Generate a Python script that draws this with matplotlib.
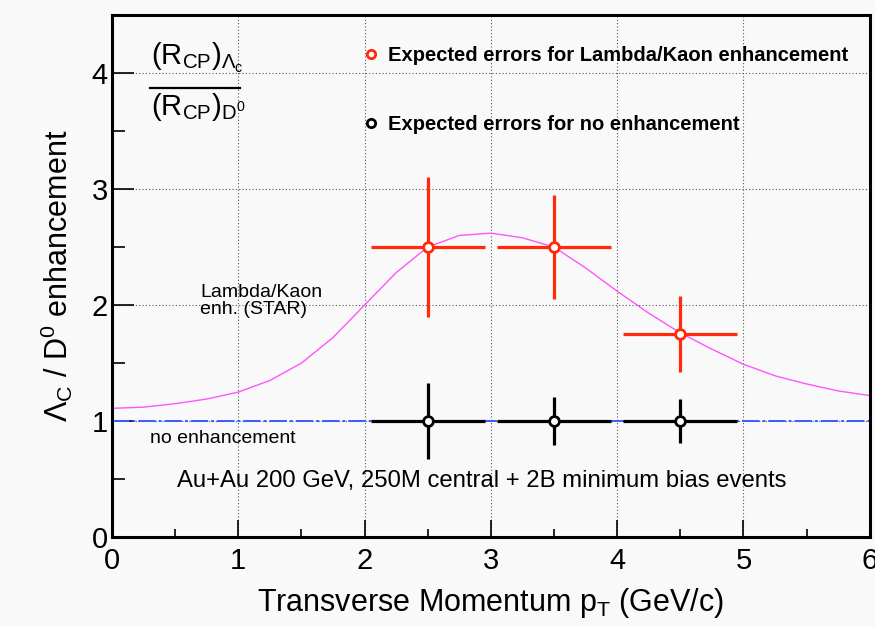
import matplotlib
matplotlib.use("Agg")
import matplotlib.pyplot as plt
from matplotlib.lines import Line2D
from matplotlib.ticker import MultipleLocator

plt.rcParams["font.family"] = ["Liberation Sans", "DejaVu Sans"]
plt.rcParams["mathtext.fontset"] = "custom"
plt.rcParams["mathtext.rm"] = "Liberation Sans"
plt.rcParams["mathtext.it"] = "Liberation Sans"
plt.rcParams["mathtext.bf"] = "Liberation Sans:bold"

# measured points
pt = [2.5, 3.5, 4.5]
pt_err = [0.45, 0.45, 0.45]
ratio_enh = [2.5, 2.5, 1.75]
err_enh = [0.6, 0.45, 0.33]
ratio_none = [1.0, 1.0, 1.0]
err_none = [0.33, 0.21, 0.19]

# Lambda/Kaon enhancement curve (STAR)
curve_pt = [0.0, 0.25, 0.5, 0.75, 1.0, 1.25, 1.5, 1.75, 2.0, 2.25, 2.5, 2.75, 3.0,
            3.25, 3.5, 3.75, 4.0, 4.25, 4.5, 4.75, 5.0, 5.25, 5.5, 5.75, 6.0]
curve_val = [1.11, 1.12, 1.15, 1.19, 1.25, 1.35, 1.50, 1.72, 2.00, 2.28, 2.50, 2.60, 2.62,
             2.58, 2.50, 2.32, 2.12, 1.93, 1.76, 1.62, 1.49, 1.39, 1.32, 1.26, 1.22]

red = "#ff2a0a"
bg = "#f9f9f9"

fig = plt.figure(figsize=(8.75, 6.26), dpi=100, facecolor=bg)
ax = fig.add_axes([0.128, 0.142, 0.866, 0.834], facecolor=bg)
ax.set_xlim(0, 6)
ax.set_ylim(0, 4.5)

ax.grid(True, which="major", ls=(0, (1, 2)), color="#555555", lw=0.8)
ax.xaxis.set_major_locator(MultipleLocator(1))
ax.xaxis.set_minor_locator(MultipleLocator(0.5))
ax.yaxis.set_major_locator(MultipleLocator(1))
ax.yaxis.set_minor_locator(MultipleLocator(0.5))
ax.tick_params(which="both", direction="in", top=False, right=False, width=1.2, labelsize=21)
ax.tick_params(axis="x", which="major", length=12, pad=7)
ax.tick_params(axis="x", which="minor", length=6)
ax.tick_params(axis="y", which="major", length=16, pad=3)
ax.tick_params(axis="y", which="minor", length=9)
for s in ax.spines.values():
    s.set_linewidth(2.2)

ax.axhline(1.0, color="#3a5bff", lw=1.4, ls=(0, (9, 1.5, 1.5, 1.5)), zorder=2)
ax.plot(curve_pt, curve_val, color="#ff55ff", lw=1.0, zorder=2)

ax.errorbar(pt, ratio_enh, xerr=pt_err, yerr=err_enh, fmt="o", color=red, ecolor=red,
            elinewidth=2.3, capsize=0, ms=7, mfc="white", mec=red, mew=2, zorder=4)
ax.errorbar(pt, ratio_none, xerr=pt_err, yerr=err_none, fmt="o", color="black", ecolor="black",
            elinewidth=2.3, capsize=0, ms=7, mfc="white", mec="black", mew=2, zorder=4)

handles = [Line2D([], [], ls="none", marker="o", ms=6, mfc="white", mec=red, mew=2),
           Line2D([], [], ls="none", marker="o", ms=6, mfc="white", mec="black", mew=2)]
leg = ax.legend(handles, ["Expected errors for Lambda/Kaon enhancement",
                          "Expected errors for no enhancement"],
                loc="upper left", bbox_to_anchor=(0.32, 0.956), frameon=False,
                prop={"weight": "bold", "size": 14.5}, labelspacing=2.46,
                handlelength=0.8, handletextpad=0.45, borderaxespad=0)

ax.set_xlabel("Transverse Momentum p$_\\mathregular{T}$ (GeV/c)", fontsize=22, labelpad=8)
ax.set_ylabel("$\\Lambda_\\mathregular{C}$ / D$^\\mathregular{0}$ enhancement", fontsize=22, labelpad=12)

ax.text(0.70, 2.18, "Lambda/Kaon\nenh. (STAR)", fontsize=14, ha="left", va="top", linespacing=0.95)
ax.text(0.30, 0.92, "no enhancement", fontsize=14, ha="left", va="top")
ax.text(2.93, 0.48, "Au+Au 200 GeV, 250M central + 2B minimum bias events", fontsize=17.2,
        ha="center", va="center")

# R_CP ratio label
ax.text(0.31, 4.07, "(R$_\\mathregular{CP}$)$_{\\Lambda_\\mathregular{c}}$", fontsize=21, ha="left", va="baseline")
ax.text(0.31, 3.64, "(R$_\\mathregular{CP}$)$_{\\mathregular{D}^\\mathregular{0}}$", fontsize=21, ha="left", va="baseline")
ax.plot([0.30, 1.01], [3.87, 3.87], color="black", lw=1.6, clip_on=False)

fig.savefig("out.png", dpi=100, facecolor=bg)
